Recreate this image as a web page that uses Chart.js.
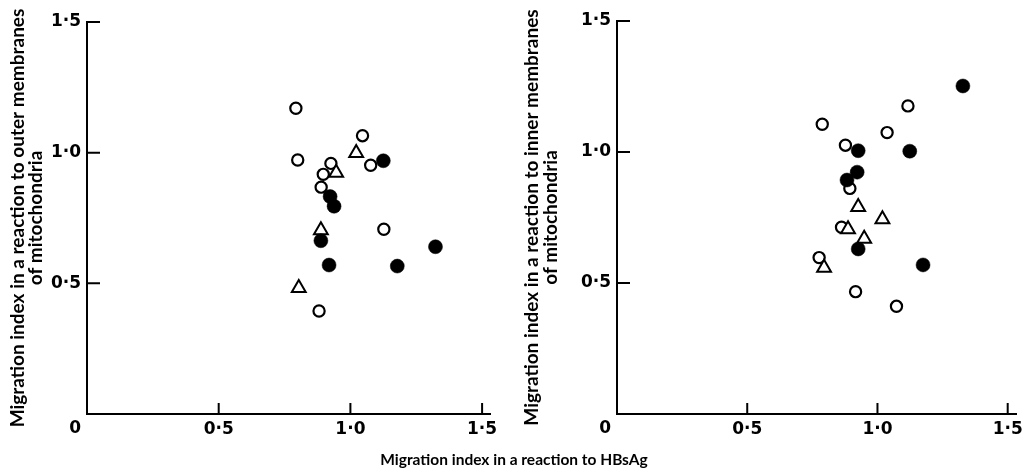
<!DOCTYPE html>
<html>
<head>
<meta charset="utf-8">
<script src="https://cdn.jsdelivr.net/npm/chart.js@4.4.1/dist/chart.umd.min.js"></script>
<style>
html,body{margin:0;padding:0;background:#fff;width:1028px;height:471px;overflow:hidden;}
.box{position:absolute;top:0;height:471px;width:514px;}
#xtitle{position:absolute;left:0;top:450px;width:1028px;text-align:center;font:700 15.5px Lato;line-height:19px;color:#000;white-space:nowrap;}
</style>
</head>
<body>
<div class="box" style="left:0"><canvas id="c1" width="514" height="471"></canvas></div>
<div class="box" style="left:514px"><canvas id="c2" width="514" height="471"></canvas></div>
<div id="xtitle"></div>
<script>
// ---- shared axis content ----
const TICK_VALUES = [0, 0.5, 1.0, 1.5];
const TICK_LABELS = ['0', '0·5', '1·0', '1·5'];
const X_TITLE = 'Migration index in a reaction to HBsAg';
const Y_TITLE_OUTER = ['Migration index in a reaction to outer membranes', 'of mitochondria'];
const Y_TITLE_INNER = ['Migration index in a reaction to inner membranes', 'of mitochondria'];

// ---- left panel: outer membranes ----
const outerOpenX   = [0.793, 1.046, 0.800, 1.077, 0.926, 0.897, 0.889, 1.127, 0.881];
const outerOpenY   = [1.170, 1.065, 0.972, 0.952, 0.959, 0.917, 0.868, 0.707, 0.394];
const outerFilledX = [1.125, 0.923, 0.938, 0.888, 1.323, 0.919, 1.178];
const outerFilledY = [0.969, 0.832, 0.795, 0.663, 0.640, 0.570, 0.566];
const outerTriX    = [1.022, 0.946, 0.888, 0.804];
const outerTriY    = [0.999, 0.923, 0.703, 0.482];

// ---- right panel: inner membranes ----
const innerOpenX   = [1.117, 0.788, 1.037, 0.877, 0.894, 0.862, 0.776, 0.916, 1.073];
const innerOpenY   = [1.176, 1.106, 1.074, 1.026, 0.861, 0.713, 0.597, 0.467, 0.411];
const innerFilledX = [1.328, 0.926, 1.124, 0.922, 0.883, 0.926, 1.175];
const innerFilledY = [1.252, 1.005, 1.003, 0.923, 0.893, 0.630, 0.569];
const innerTriX    = [0.926, 1.019, 0.887, 0.949, 0.795];
const innerTriY    = [0.790, 0.743, 0.705, 0.669, 0.558];

document.getElementById('xtitle').textContent = X_TITLE;

const zip = (xs, ys) => xs.map((x, i) => ({x: x, y: ys[i]}));
const labelFor = v => { const i = TICK_VALUES.indexOf(v); return (i > 0) ? TICK_LABELS[i] : ''; };

const TICK_FONT = {family: 'DejaVu Sans', weight: 'bold', size: 17};

// inward tick marks + shared origin label
const axisDecor = {
  id: 'axisDecor',
  afterDraw(chart) {
    const ctx = chart.ctx, xs = chart.scales.x, ys = chart.scales.y;
    const ca = chart.chartArea;
    ctx.save();
    ctx.strokeStyle = '#000';
    ctx.lineWidth = 2;
    ctx.beginPath();
    TICK_VALUES.forEach(v => {
      if (v === 0) return;
      const px = xs.getPixelForValue(v);
      ctx.moveTo(px, ca.bottom); ctx.lineTo(px, ca.bottom - 11);
      const py = ys.getPixelForValue(v);
      ctx.moveTo(ca.left, py); ctx.lineTo(ca.left + 13, py);
    });
    ctx.stroke();
    ctx.fillStyle = '#000';
    ctx.font = 'bold 17px "DejaVu Sans"';
    ctx.textAlign = 'right';
    ctx.textBaseline = 'top';
    ctx.fillText(TICK_LABELS[0], ca.left - 6, ca.bottom + 6);
    ctx.restore();
  }
};

function makePanel(id, cfg) {
  return new Chart(document.getElementById(id), {
    type: 'scatter',
    data: {
      datasets: [
        {data: zip(cfg.filledX, cfg.filledY), pointStyle: 'circle', pointRadius: 7, pointBorderWidth: 0.5,
         backgroundColor: '#000', borderColor: '#000', order: 1},
        {data: zip(cfg.triX, cfg.triY), pointStyle: 'triangle', pointRadius: 8, pointBorderWidth: 2,
         backgroundColor: '#fff', borderColor: '#000', order: 2},
        {data: zip(cfg.openX, cfg.openY), pointStyle: 'circle', pointRadius: 5.6, pointBorderWidth: 2.2,
         backgroundColor: '#fff', borderColor: '#000', order: 3}
      ]
    },
    options: {
      responsive: false,
      animation: false,
      events: [],
      layout: {padding: {left: 0, top: cfg.top, right: cfg.right, bottom: 0}},
      plugins: {legend: {display: false}, tooltip: {enabled: false}},
      scales: {
        x: {
          type: 'linear', min: 0, max: cfg.xmax,
          afterBuildTicks: s => { s.ticks = TICK_VALUES.map(v => ({value: v})); },
          afterFit: s => { s.height = 471 - 414; },
          grid: {display: false, drawTicks: false},
          border: {display: true, color: '#000', width: 2},
          ticks: {callback: labelFor, color: '#000', font: TICK_FONT, padding: 5, maxRotation: 0, autoSkip: false}
        },
        y: {
          type: 'linear', min: 0, max: 1.5,
          afterBuildTicks: s => { s.ticks = TICK_VALUES.map(v => ({value: v})); },
          afterFit: s => { s.width = cfg.yWidth; },
          grid: {display: false, drawTicks: false},
          border: {display: true, color: '#000', width: 2},
          ticks: {callback: labelFor, color: '#000', font: TICK_FONT, padding: 6, autoSkip: false},
          title: {display: true, text: cfg.title, color: '#000',
                  font: {family: 'Lato', weight: 'bold', size: 19, lineHeight: cfg.titleLH + 'px'},
                  padding: {top: cfg.titlePad, bottom: 0}}
        }
      }
    },
    plugins: [axisDecor]
  });
}

makePanel('c1', {
  openX: outerOpenX, openY: outerOpenY, filledX: outerFilledX, filledY: outerFilledY,
  triX: outerTriX, triY: outerTriY, title: Y_TITLE_OUTER,
  top: 22, right: 24, yWidth: 87, xmax: 1.530, titleLH: 18, titlePad: 8.5
});
makePanel('c2', {
  openX: innerOpenX, openY: innerOpenY, filledX: innerFilledX, filledY: innerFilledY,
  triX: innerTriX, triY: innerTriY, title: Y_TITLE_INNER,
  top: 21, right: 11, yWidth: 103, xmax: 1.534, titleLH: 19, titlePad: 8
});
</script>
</body>
</html>
